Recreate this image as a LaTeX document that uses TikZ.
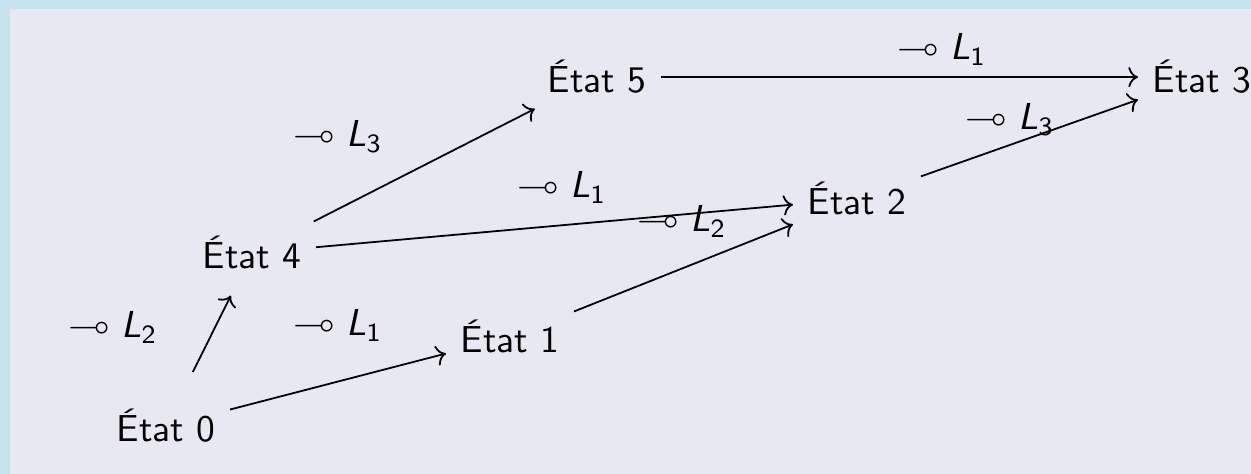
\documentclass[tikz,border=0pt]{standalone}
\usepackage{amsmath,amssymb}
\usepackage{fontspec}
\renewcommand{\familydefault}{\sfdefault}
\usetikzlibrary{arrows.meta}
\definecolor{frameblue}{RGB}{197,227,236}
\definecolor{slidebg}{RGB}{232,232,243}
\newcommand{\lolli}[1]{$\multimap \text{\itshape L}_{\text{#1}}$}
\tikzset{
  etat/.style  = {inner xsep=3.9pt, inner ysep=4pt, anchor=base, font=\fontsize{10.5}{12}\selectfont},
  lbl/.style   = {inner sep=0pt, anchor=base west, font=\fontsize{10.5}{12}\selectfont},
  trans/.style = {->, line width=0.5pt}
}

\begin{document}
\begin{tikzpicture}[x=0.28pt, y=-0.28pt]

  % ── slide background ─────────────────────────────────────────────
  \useasboundingbox (0,0) rectangle (1251,474);
  \fill[frameblue] (0,0) rectangle (1251,474);
  \fill[slidebg] (10,9) rectangle (1251,474);

  % ── states ───────────────────────────────────────────────────────
  \node[etat] (s0) at (166,442) {État 0};
  \node[etat] (s4) at (252,269) {État 4};
  \node[etat] (s1) at (510,353) {État 1};
  \node[etat] (s5) at (597,93)  {État 5};
  \node[etat] (s2) at (857,215) {État 2};
  \node[etat] (s3) at (1202,93) {État 3};

  % ── transitions ──────────────────────────────────────────────────
  \draw[trans, shorten <=7pt, shorten >=3.5pt] (s0) -- (s4);
  \draw[trans] (s0) -- (s1);
  \draw[trans] (s4) -- (s5);
  \draw[trans] (s4) -- (s2);
  \draw[trans] (s1) -- (s2);
  \draw[trans] (s5) -- (s3);
  \draw[trans] (s2) -- (s3);

  % ── resources consumed ───────────────────────────────────────────
  \node[lbl] (l04) at (68,338)  {\lolli{2}};
  \node[lbl] (l01) at (293,336) {\lolli{1}};
  \node[lbl] (l45) at (293,147) {\lolli{3}};
  \node[lbl] (l42) at (517,198) {\lolli{1}};
  \node[lbl] (l12) at (637,232) {\lolli{2}};
  \node[lbl] (l53) at (897,60)  {\lolli{1}};
  \node[lbl] (l23) at (965,130) {\lolli{3}};

\end{tikzpicture}
\end{document}
